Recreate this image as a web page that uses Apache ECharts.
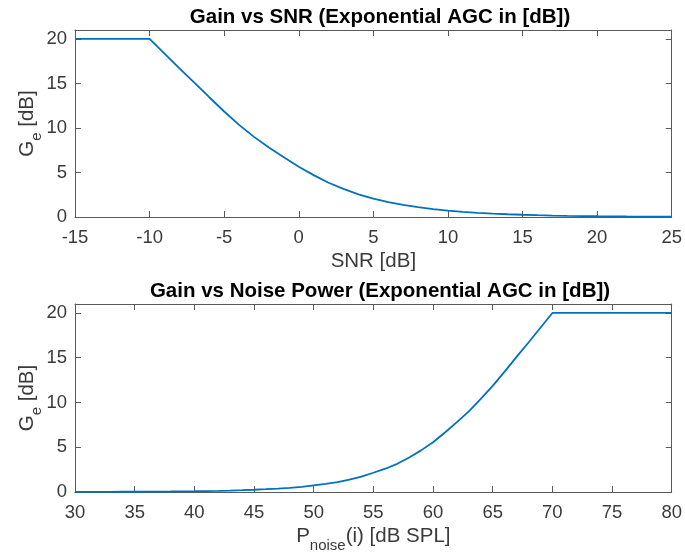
<!DOCTYPE html>
<html>
<head>
<meta charset="utf-8">
<script src="https://cdn.jsdelivr.net/npm/echarts@6/dist/echarts.min.js"></script>
<style>
html,body{margin:0;padding:0;background:#fff;}
#chart{width:685px;height:558px;}
</style>
</head>
<body>
<div id="chart"></div>
<script>
// ---- Data ----
const snrValues = [-15,-14,-13,-12,-11,-10,-9,-8,-7,-6,-5,-4,-3,-2,-1,0,1,2,3,4,5,6,7,8,9,10,11,12,13,14,15,16,17,18,19,20,21,22,23,24,25];
const gainVsSnr = [20,20,20,20,20,20,18.35,16.7,15.1,13.45,11.85,10.35,9.0,7.8,6.7,5.65,4.7,3.85,3.15,2.55,2.07,1.68,1.36,1.1,0.89,0.72,0.58,0.47,0.38,0.31,0.25,0.2,0.16,0.13,0.105,0.085,0.07,0.055,0.045,0.036,0.03];

const noiseValues = [30,31,32,33,34,35,36,37,38,39,40,41,42,43,44,45,46,47,48,49,50,51,52,53,54,55,56,57,58,59,60,61,62,63,64,65,66,67,68,69,70,71,72,73,74,75,76,77,78,79,80];
const gainVsNoise = [0.012,0.015,0.018,0.022,0.027,0.03,0.036,0.045,0.055,0.07,0.085,0.105,0.13,0.16,0.2,0.25,0.31,0.38,0.47,0.58,0.74,0.9,1.1,1.37,1.72,2.15,2.6,3.15,3.85,4.65,5.55,6.65,7.8,9.0,10.4,11.85,13.45,15.1,16.7,18.35,20,20,20,20,20,20,20,20,20,20,20];

const snrTicks = [-15,-10,-5,0,5,10,15,20,25];
const noiseTicks = [30,35,40,45,50,55,60,65,70,75,80];
const gainTicks = [0,5,10,15,20];

const titles = ['Gain vs SNR (Exponential AGC in [dB])', 'Gain vs Noise Power (Exponential AGC in [dB])'];

// ---- Styling ----
const FONT = 'Liberation Sans, Arial, Helvetica, sans-serif';
const AX = '#5a5a5a';
const TXT = '#3a3a3a';
const LINE = '#0072BD';

function xAxisPair(gridIndex, min, max, ticks, name, nameGap, rich) {
  const base = {
    gridIndex, type: 'value', min, max, interval: 5,
    axisLine: { show: true, onZero: false, lineStyle: { color: AX, width: 1 } },
    splitLine: { show: false }
  };
  return [
    Object.assign({}, base, {
      position: 'bottom',
      axisTick: { show: true, inside: true, length: 6, customValues: ticks, lineStyle: { color: AX } },
      axisLabel: { show: true, customValues: ticks, margin: 11, color: TXT, fontFamily: FONT, fontSize: 18.5 },
      name, nameLocation: 'middle', nameGap, nameMoveOverlap: false,
      nameTextStyle: Object.assign({ color: TXT, fontFamily: FONT, fontSize: 20.5 }, rich ? { rich } : {})
    }),
    Object.assign({}, base, {
      position: 'top',
      axisTick: { show: true, inside: true, length: 6, customValues: ticks, lineStyle: { color: AX } },
      axisLabel: { show: false }
    })
  ];
}

const richSub = {
  m: { color: TXT, fontFamily: FONT, fontSize: 20.5, lineHeight: 22, padding: [0, 0, 6, 0], verticalAlign: 'bottom' },
  s: { color: TXT, fontFamily: FONT, fontSize: 15, lineHeight: 16, verticalAlign: 'bottom' }
};

function yAxisPair(gridIndex) {
  const base = {
    gridIndex, type: 'value', min: 0, max: 21,
    axisLine: { show: true, onZero: false, lineStyle: { color: AX, width: 1 } },
    splitLine: { show: false }
  };
  return [
    Object.assign({}, base, {
      position: 'left',
      axisTick: { show: true, inside: true, length: 6, customValues: gainTicks, lineStyle: { color: AX } },
      axisLabel: { show: true, customValues: gainTicks, margin: 8, color: TXT, fontFamily: FONT, fontSize: 18.5 },
      name: '{m|G}{s|e}{m| [dB]}', nameLocation: 'middle', nameGap: 31, nameMoveOverlap: false,
      nameTextStyle: { color: TXT, fontFamily: FONT, fontSize: 20.5, rich: richSub }
    }),
    Object.assign({}, base, {
      position: 'right',
      axisTick: { show: true, inside: true, length: 6, customValues: gainTicks, lineStyle: { color: AX } },
      axisLabel: { show: false }
    })
  ];
}

const chart = echarts.init(document.getElementById('chart'), null, { renderer: 'canvas' });
chart.setOption({
  backgroundColor: '#fff',
  animation: false,
  title: [
    { text: titles[0], left: 375, top: 2, textAlign: 'center',
      textStyle: { fontFamily: FONT, fontSize: 20.5, fontWeight: 'bold', color: '#000' } },
    { text: titles[1], left: 375, top: 276, textAlign: 'center',
      textStyle: { fontFamily: FONT, fontSize: 20.5, fontWeight: 'bold', color: '#000' } }
  ],
  grid: [
    { left: 75, top: 30, width: 599, height: 187 },
    { left: 75, top: 304, width: 599, height: 188 }
  ],
  xAxis: [].concat(
    xAxisPair(0, -15, 25, snrTicks, 'SNR [dB]', 34, null),
    xAxisPair(1, 30, 80, noiseTicks, '{m|P}{s|noise}{m|(i) [dB SPL]}', 39, richSub)
  ),
  yAxis: [].concat(yAxisPair(0), yAxisPair(1)),
  series: [
    { type: 'line', xAxisIndex: 0, yAxisIndex: 0, showSymbol: false, symbol: 'none',
      data: snrValues.map((x, i) => [x, gainVsSnr[i]]),
      lineStyle: { color: LINE, width: 1.8 }, itemStyle: { color: LINE } },
    { type: 'line', xAxisIndex: 2, yAxisIndex: 2, showSymbol: false, symbol: 'none',
      data: noiseValues.map((x, i) => [x, gainVsNoise[i]]),
      lineStyle: { color: LINE, width: 1.8 }, itemStyle: { color: LINE } }
  ]
});
</script>
</body>
</html>
